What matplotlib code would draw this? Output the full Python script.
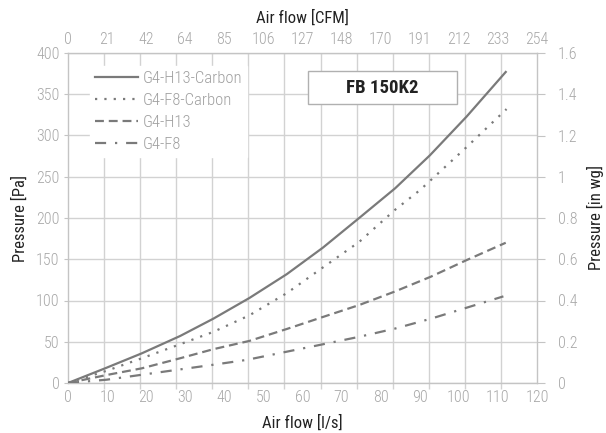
import numpy as np
import matplotlib
matplotlib.use("Agg")
import matplotlib.pyplot as plt
from matplotlib.patches import Rectangle
from matplotlib import font_manager

# pick a narrow family if one is installed
names = {f.name for f in font_manager.fontManager.ttflist}
fam = [n for n in ['Liberation Sans Narrow', 'Roboto Condensed', 'DejaVu Sans Condensed', 'Roboto']
       if n in names]
plt.rcParams['font.family'] = fam + ['DejaVu Sans']

# --- data ---
x_h13c = [0, 9.6, 18.9, 28.7, 37.2, 46.4, 56, 65.2, 74.5, 83.7, 92.6, 102, 112]
y_h13c = [0, 18, 36, 57, 78, 103, 132, 164, 200, 236, 276, 323, 377]

x_f8c = [0, 10, 18.9, 28.7, 37.2, 46.4, 56, 65.2, 74.5, 83.7, 90.1, 102, 112.2]
y_f8c = [0, 15, 30, 47, 62, 82, 109, 140, 171, 210, 234, 286, 332]

x_h13 = [0, 9.9, 18.9, 28.7, 37.2, 46.4, 56, 65.2, 74.5, 83.7, 92.9, 102, 112]
y_h13 = [0, 9.7, 17.8, 30, 41, 51, 65.5, 80, 94.5, 111, 129, 149, 170]

x_f8 = [0, 9.9, 18.9, 37, 45.7, 65.3, 74.5, 83.7, 92.9, 111.4]
y_f8 = [0, 4, 10, 22, 28, 47, 56, 66, 78, 105]

ls_ticks = [0, 10, 20, 30, 40, 50, 60, 70, 80, 90, 100, 110, 120]
cfm_labels = ["0", "21", "42", "64", "85", "106", "127", "148", "170", "191", "212", "233", "254"]
pa_ticks = [0, 50, 100, 150, 200, 250, 300, 350, 400]
inwg_ticks = [0, 0.2, 0.4, 0.6, 0.8, 1.0, 1.2, 1.4, 1.6]
inwg_labels = ["0", "0.2", "0.4", "0.6", "0.8", "1", "1.2", "1.4", "1.6"]

line_col = "#7a7a7a"
grid_col = "#d2d2d2"
spine_col = "#c4c4c4"
tick_col = "#a8a8a8"
lbl_col = "#222222"
tfs = 11.5  # tick label size
afs = 12    # axis label size

fig = plt.figure(figsize=(6.06, 4.33), dpi=100)
ax = fig.add_axes([68 / 606, 1 - 383 / 433, 469 / 606, 330 / 433])

ax.plot(x_h13c, y_h13c, color=line_col, lw=1.6, ls="-", label="G4-H13-Carbon", zorder=3)
ax.plot(x_f8c, y_f8c, color=line_col, lw=1.6, ls=(0, (1, 3.2)), label="G4-F8-Carbon", zorder=3)
ax.plot(x_h13, y_h13, color=line_col, lw=1.6, ls=(0, (4, 2.2)), label="G4-H13", zorder=3)
ax.plot(x_f8, y_f8, color=line_col, lw=1.6, ls=(0, (5, 4, 1, 4)), label="G4-F8", zorder=3)

ax.set_xlim(0, 120)
ax.set_ylim(0, 400)

# labels on the 10 l/s steps, grid lines on 13 equal divisions (as in the reference)
ax.set_xticks(ls_ticks)
ax.set_xticklabels([str(v) for v in ls_ticks], fontweight="light")
ax.set_xticks(np.linspace(0, 120, 14), minor=True)
ax.tick_params(axis="x", which="major", length=0, pad=5, labelsize=tfs, labelcolor=tick_col)
ax.tick_params(axis="x", which="minor", length=4, color=grid_col, width=1)
ax.grid(True, axis="x", which="minor", color=grid_col, lw=1, zorder=0)
ax.grid(False, axis="x", which="major")

ax.set_yticks(pa_ticks)
ax.set_yticklabels([str(v) for v in pa_ticks], fontweight="light")
ax.tick_params(axis="y", length=3, color=spine_col, pad=3, labelsize=tfs, labelcolor=tick_col)
ax.grid(True, axis="y", color=grid_col, lw=1, zorder=0)
ax.set_axisbelow(True)

for s in ax.spines.values():
    s.set_color(spine_col)
    s.set_linewidth(1)

ax.set_xlabel("Air flow [l/s]", fontsize=afs, color=lbl_col, labelpad=7)
ax.set_ylabel("Pressure [Pa]", fontsize=afs, color=lbl_col, labelpad=6)

# top axis in CFM
axt = ax.twiny()
axt.set_xlim(0, 120)
axt.set_xticks(ls_ticks)
axt.set_xticklabels(cfm_labels, fontweight="light")
axt.tick_params(axis="x", length=0, pad=4, labelsize=tfs, labelcolor=tick_col)
axt.set_xlabel("Air flow [CFM]", fontsize=afs, color=lbl_col, labelpad=7)
for s in axt.spines.values():
    s.set_visible(False)

# right axis in in wg
axr = ax.twinx()
axr.set_ylim(0, 1.6)
axr.set_yticks(inwg_ticks)
axr.set_yticklabels(inwg_labels, fontweight="light")
axr.tick_params(axis="y", length=6, color=spine_col, pad=9, labelsize=tfs, labelcolor=tick_col)
axr.set_ylabel("Pressure [in wg]", fontsize=afs, color=lbl_col, labelpad=7)
for s in axr.spines.values():
    s.set_visible(False)

leg = ax.legend(loc="upper left", bbox_to_anchor=(0.047, 0.96), fontsize=12,
                frameon=True, fancybox=False, handlelength=2.6, handletextpad=0.25,
                labelspacing=0.42, borderpad=0.3, borderaxespad=0)
leg.get_frame().set_facecolor("white")
leg.get_frame().set_edgecolor("white")
leg.get_frame().set_alpha(1)
for t in leg.get_texts():
    t.set_color("#a0a0a0")
    t.set_fontweight("light")

box = Rectangle((0.512, 0.845), 0.317, 0.1, transform=ax.transAxes,
                facecolor="white", edgecolor="#b0b0b0", lw=1, zorder=4)
ax.add_patch(box)
ax.text(0.67, 0.895, "FB 150K2", transform=ax.transAxes, ha="center", va="center",
        fontsize=13.5, fontweight="bold", color=lbl_col, zorder=5)

fig.savefig("out.png", dpi=100)
